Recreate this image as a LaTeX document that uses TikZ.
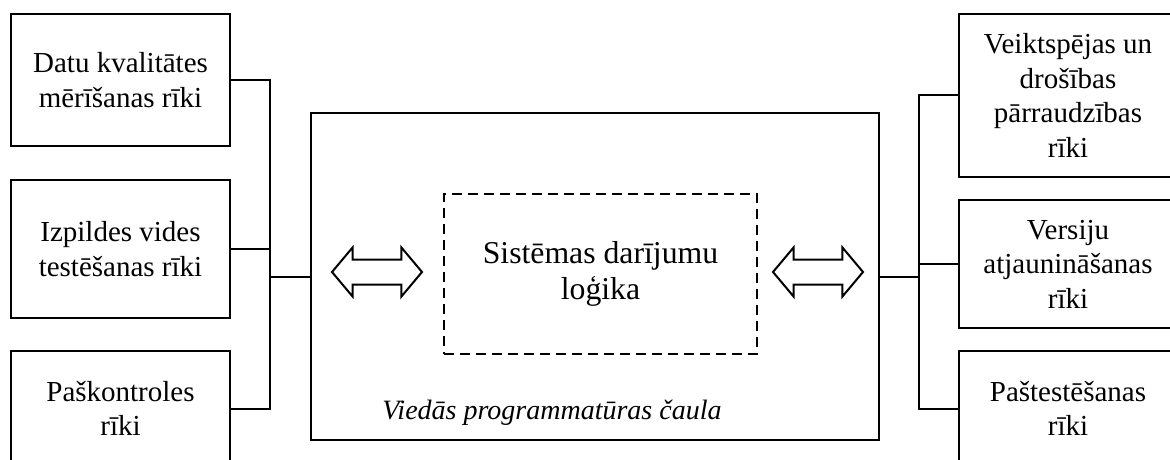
\documentclass[tikz,border=0pt]{standalone}
\usepackage{fontspec}
\setmainfont{Liberation Serif}
\usetikzlibrary{shapes.arrows,positioning}

\begin{document}
\begin{tikzpicture}[x=0.4pt,y=-0.4pt,line width=0.8pt]
	\tikzstyle{tool}=[draw, align=center, minimum width=87.4pt, inner sep=0pt, font=\fontsize{11.6}{13.8}\selectfont]
	\tikzstyle{link}=[draw, double arrow, minimum height=36pt, inner xsep=0pt, inner ysep=4.6pt, double arrow head extend=4.8pt, double arrow tip angle=100]
	
	\useasboundingbox (0,0) rectangle (1170,459);
	\clip (0,0) rectangle (1170,459);
	
	\node[draw, minimum width=227.2pt, minimum height=130.8pt] (shell) at (595,276.5) {};
	\node[font=\fontsize{11.2}{13.4}\selectfont\itshape] (shelltext) at (552,413) {Viedās programmatūras čaula};
	\node[draw, dash pattern=on 4pt off 2.4pt, minimum width=125.2pt, minimum height=64pt, align=center, font=\fontsize{12.7}{14.6}\selectfont] (logic) at (600.5,274) {Sistēmas darījumu\\loģika};
	
	\node[tool, minimum height=52.8pt] (l1) at (120.5,80) {Datu kvalitātes\\mērīšanas rīki};
	\node[tool, minimum height=55.2pt] (l2) at (120.5,249) {Izpildes vides\\testēšanas rīki};
	\node[tool, minimum height=46pt]   (l3) at (120.5,408.5) {Paškontroles\\rīki};
	
	\node[tool, minimum height=65.2pt] (r1) at (1068,95.5) {Veiktspējas un\\drošības\\pārraudzības\\rīki};
	\node[tool, minimum height=51.2pt] (r2) at (1068,264) {Versiju\\atjaunināšanas\\rīki};
	\node[tool, minimum height=46pt]   (r3) at (1068,408.5) {Paštestēšanas\\rīki};
	
	\node[link] (al) at (377,272) {};
	\node[link] (ar) at (818,272) {};
	
	\coordinate (jl) at (270,276.5);
	\coordinate (jr) at (919,276.5);
	
	\draw (l1.east) -| (jl) |- (l3.east);
	\draw (l2.east) -| (jl) -- (shell.west);
	\draw (r1.west) -| (jr) |- (r3.west);
	\draw (r2.west) -| (jr) -- (shell.east);
\end{tikzpicture}
\end{document}
